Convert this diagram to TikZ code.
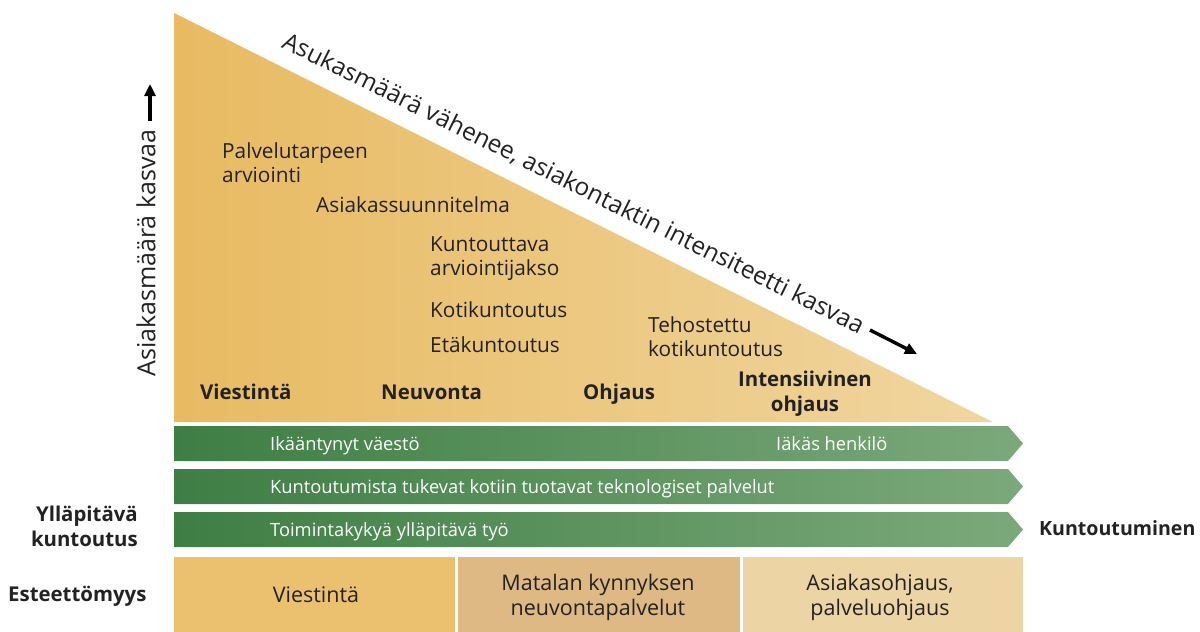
\documentclass[tikz,border=0pt]{standalone}
\usepackage{fontspec}
\setmainfont{Open Sans}
\usetikzlibrary{arrows.meta}
\definecolor{triL}{HTML}{E8BA62}
\definecolor{triR}{HTML}{F0D6A0}
\definecolor{grL}{HTML}{3E7E44}
\definecolor{grR}{HTML}{7CA97B}
\definecolor{boxA}{HTML}{EBC06E}
\definecolor{boxB}{HTML}{DEB984}
\definecolor{boxC}{HTML}{EDD4A4}
\definecolor{txt}{HTML}{222222}
\tikzset{
  lbl/.style={inner sep=0pt, anchor=base west, font=\fontsize{20.8}{24}\selectfont, text=txt},
  blbl/.style={inner sep=0pt, font=\fontsize{20.4}{25}\selectfont\bfseries, text=txt},
  wlbl/.style={inner sep=0pt, anchor=base west, font=\fontsize{18.3}{22}\selectfont, text=white},
  boxlbl/.style={inner sep=0pt, align=center, font=\fontsize{21.5}{25}\selectfont, text=txt},
  bar/.style={left color=grL, right color=grR},
  arr/.style={-{Triangle[length=12pt,width=11pt]}, line width=3.4pt, black}
}
\begin{document}
\begin{tikzpicture}[x=1pt,y=-1pt]
\useasboundingbox (0,0) rectangle (1200,632);
% triangle
\shade[left color=triL, right color=triR] (174,13) -- (174,422) -- (993,422) -- cycle;
\coordinate (sA) at (181.6,-2.2);
\coordinate (sC) at (1000.6,404.8);
\path (sA) -- (sC) node[pos=0.474, sloped, anchor=base, inner sep=0pt, font=\fontsize{24.4}{28}\selectfont, text=txt] (diag) {Asukasmäärä vähenee, asiakontaktin intensiteetti kasvaa};
\coordinate (d1) at (870,330);
\coordinate (d2) at (917,354);
\draw[arr] (d1) -- (d2);
% vertical label
\node[rotate=90, inner sep=0pt, font=\fontsize{25}{28}\selectfont, text=txt] (vert) at (146,253) {Asiakasmäärä kasvaa};
\coordinate (v1) at (150,121);
\coordinate (v2) at (150,84);
\draw[arr] (v1) -- (v2);
% triangle labels
\node[lbl] (p1) at (222,158) {Palvelutarpeen};
\node[lbl] (p2) at (222,182) {arviointi};
\node[lbl] (as) at (316,212) {Asiakassuunnitelma};
\node[lbl] (k1) at (430,251) {Kuntouttava};
\node[lbl] (k2) at (430,275) {arviointijakso};
\node[lbl] (kk) at (430,317) {Kotikuntoutus};
\node[lbl] (ek) at (430,352) {Etäkuntoutus};
\node[lbl] (t1) at (648,332) {Tehostettu};
\node[lbl] (t2) at (648,356) {kotikuntoutus};
\node[blbl, anchor=base west] (vi) at (200,399) {Viestintä};
\node[blbl, anchor=base west] (ne) at (381,399) {Neuvonta};
\node[blbl, anchor=base west] (oh) at (583,399) {Ohjaus};
\node[blbl, align=center, anchor=base] (io) at (805,411) {Intensiivinen\\ohjaus};
% green bars
\shade[bar] (174,426) -- (1008,426) -- (1023,443.5) -- (1008,461) -- (174,461) -- cycle;
\shade[bar] (174,469) -- (1008,469) -- (1023,486.5) -- (1008,504) -- (174,504) -- cycle;
\shade[bar] (174,512) -- (1008,512) -- (1023,529.5) -- (1008,547) -- (174,547) -- cycle;
\node[wlbl] (g1) at (270,450) {Ikääntynyt väestö};
\node[wlbl] (g1b) at (776,450) {Iäkäs henkilö};
\node[wlbl] (g2) at (270,493) {Kuntoutumista tukevat kotiin tuotavat teknologiset palvelut};
\node[wlbl] (g3) at (270,536) {Toimintakykyä ylläpitävä työ};
% bottom boxes
\fill[boxA] (174,557) rectangle (455,632);
\fill[boxB] (458,557) rectangle (740,632);
\fill[boxC] (743,557) rectangle (1023,632);
\node[boxlbl, anchor=base] (b1) at (316,602) {Viestintä};
\node[boxlbl, anchor=base] (b2) at (598,615) {Matalan kynnyksen\\neuvontapalvelut};
\node[boxlbl, anchor=base] (b3) at (880,615) {Asiakasohjaus,\\palveluohjaus};
% side labels
\node[blbl, align=right, anchor=base east] (yl) at (138,546) {Ylläpitävä\\kuntoutus};
\node[blbl, anchor=base west] (es) at (8,601) {Esteettömyys};
\node[blbl, anchor=base west, font=\fontsize{19.6}{24}\selectfont\bfseries] (ku) at (1039,535) {Kuntoutuminen};
\end{tikzpicture}
\end{document}
